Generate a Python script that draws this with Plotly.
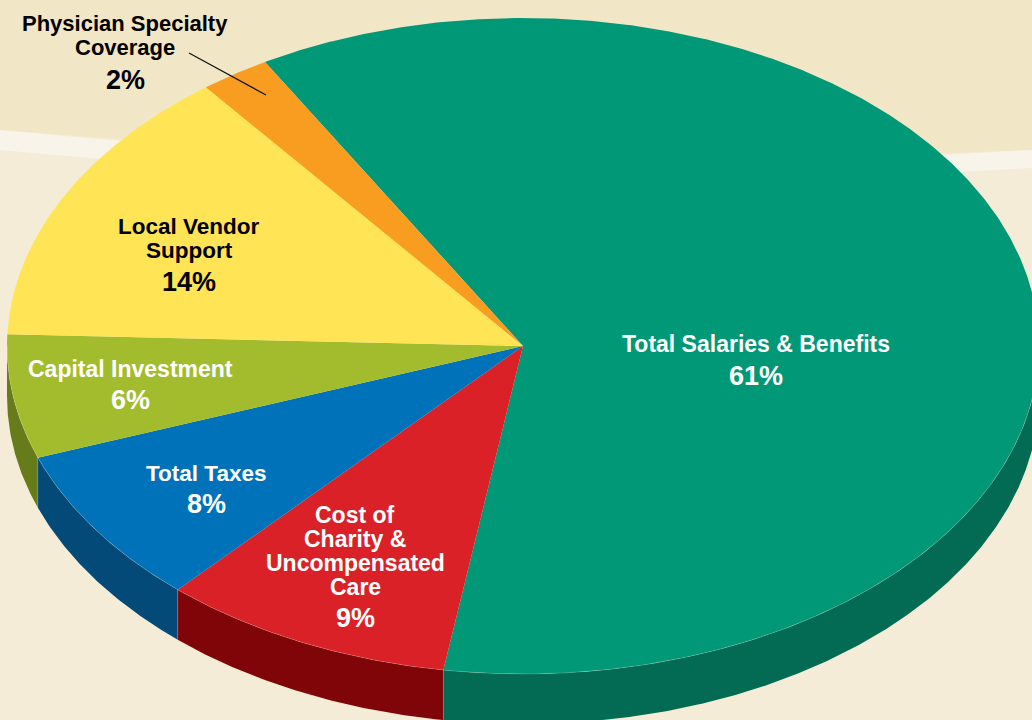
import numpy as np
import plotly.graph_objects as go

# ---- data ----
categories = ["Total Salaries & Benefits", "Cost of Charity & Uncompensated Care", "Total Taxes",
              "Capital Investment", "Local Vendor Support", "Physician Specialty Coverage"]
values = [60.8, 9.2, 7.8, 6.1, 13.9, 2.2]
label_lines = [["Total Salaries & Benefits"], ["Cost of", "Charity &", "Uncompensated", "Care"], ["Total Taxes"],
               ["Capital Investment"], ["Local Vendor", "Support"], ["Physician Specialty", "Coverage"]]

# ---- style / layout ----
top_colors = ["#009877", "#DA2128", "#0072BA", "#A3BC2E", "#FFE556", "#F99D20"]
side_colors = ["#036B54", "#7F0508", "#044A78", "#667C1A", "#B8A63E", "#B5721A"]
text_colors = ["white", "white", "white", "white", "black", "black"]
label_sizes = [23, 23, 22.5, 23, 22.5, 22]
W, H = 1032, 720
CX, CY, RX, RY, DEPTH = 523, 346, 516, 328, 50
START_DEG = -30
# pixel centres of each label block: (x, first line y, line step, percent y)
label_pos = [(756, 344, 24, 376), (355, 515, 24, 618), (206, 473, 24, 504),
             (130, 369, 24, 400), (189, 226, 24, 282), (125, 24, 24, 80)]

x_range = [(0 - CX) / RX, (W - CX) / RX]
y_range = [(CY - H) / RY, CY / RY]
depth = DEPTH / RY


def arc(a0, a1):
    t = np.radians(np.linspace(a0, a1, max(3, int(abs(a1 - a0) * 3))))
    return np.sin(t), np.cos(t)


fig = go.Figure()
angles = START_DEG + np.concatenate([[0], np.cumsum(values)]) * 360 / sum(values)

# side walls (only the front half of the rim shows)
for i in range(len(values)):
    a0, a1 = max(angles[i], 90), min(angles[i + 1], 270)
    if a1 <= a0:
        continue
    x, y = arc(a0, a1)
    fig.add_trace(go.Scatter(x=np.r_[x, x[::-1]], y=np.r_[y, y[::-1] - depth], mode="lines", fill="toself",
                             fillcolor=side_colors[i], line=dict(width=0), hoverinfo="skip", showlegend=False))
    # pale hairline on the inner vertical edge
    fig.add_trace(go.Scatter(x=[x[0], x[0]], y=[y[0], y[0] - depth], mode="lines",
                             line=dict(width=0.7, color="rgba(255,255,255,0.25)"),
                             hoverinfo="skip", showlegend=False))

# top face
for i in range(len(values)):
    x, y = arc(angles[i], angles[i + 1])
    fig.add_trace(go.Scatter(x=np.r_[0, x, 0], y=np.r_[0, y, 0], mode="lines", fill="toself",
                             fillcolor=top_colors[i], line=dict(width=0), hoverinfo="skip", showlegend=False))
# pale hairline along front rim
x, y = arc(90, 270)
fig.add_trace(go.Scatter(x=x, y=y, mode="lines", line=dict(width=0.7, color="rgba(255,255,255,0.25)"),
                         hoverinfo="skip", showlegend=False))


def px(x):
    return x / W


def py(y):
    return 1 - y / H


def poly(points, color):
    d = "M " + " L ".join(f"{px(a):.5f},{py(b):.5f}" for a, b in points) + " Z"
    return dict(type="path", path=d, xref="paper", yref="paper", fillcolor=color, line_width=0, layer="below")


shapes = [
    poly([(0, 0), (W, 0), (W, 150), (520, 170), (0, 130)], "#F1E6C6"),
    poly([(0, 130), (520, 178), (W, 150), (W, 168), (520, 196), (0, 150)], "#F8F4EA"),
    dict(type="line", xref="paper", yref="paper", x0=px(189), y0=py(53), x1=px(266), y1=py(95),
         line=dict(color="#111111", width=1.2)),
]

FONT = "Liberation Sans"
annotations = []
for i, lines in enumerate(label_lines):
    lx, ly, step, pct_y = label_pos[i]
    for j, line in enumerate(lines):
        annotations.append(dict(x=px(lx), y=py(ly + j * step), xref="paper", yref="paper", text=line,
                                showarrow=False, xanchor="center", yanchor="middle",
                                font=dict(family=FONT, size=label_sizes[i], color=text_colors[i], weight=700)))
    annotations.append(dict(x=px(lx), y=py(pct_y), xref="paper", yref="paper", text=f"{round(values[i])}%",
                            showarrow=False, xanchor="center", yanchor="middle",
                            font=dict(family=FONT, size=27, color=text_colors[i], weight=700)))

fig.update_layout(
    width=W, height=H, margin=dict(l=0, r=0, t=0, b=0),
    paper_bgcolor="#F4ECD7", plot_bgcolor="rgba(0,0,0,0)",
    xaxis=dict(range=x_range, visible=False, fixedrange=True),
    yaxis=dict(range=y_range, visible=False, fixedrange=True),
    shapes=shapes, annotations=annotations, showlegend=False,
)
fig.write_html("out.html", config=dict(displayModeBar=False),
               post_script="document.body.style.margin='0';document.body.style.overflow='hidden';")
